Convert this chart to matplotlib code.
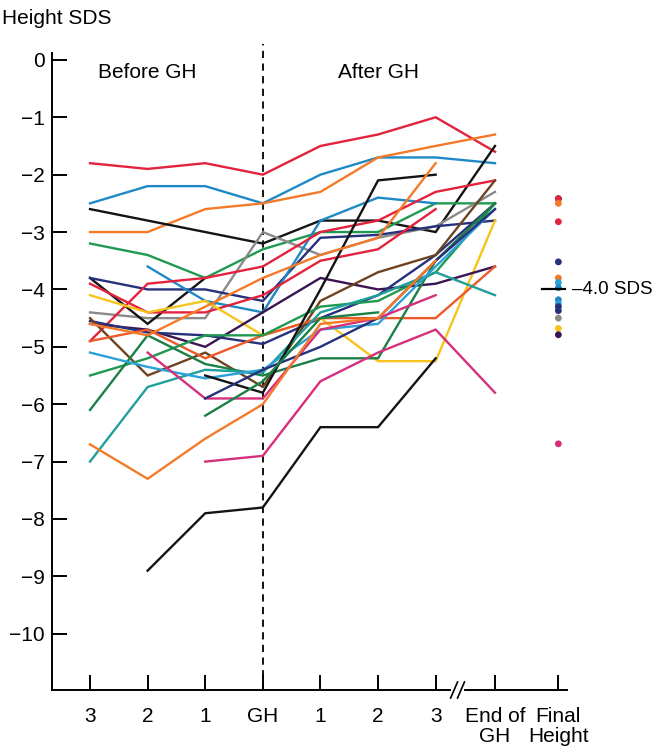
import numpy as np
import matplotlib
matplotlib.use("Agg")
import matplotlib.pyplot as plt

plt.rcParams['font.family'] = ['Liberation Sans', 'DejaVu Sans']

nan = np.nan
# x categories: 3,2,1 years before GH, GH start, 1,2,3 years after, End of GH
x_labels = ["3", "2", "1", "GH", "1", "2", "3", "End of\nGH", "Final\nHeight"]
x_pos = [0, 1, 2, 3, 4, 5, 6, 7.03, 8.13]

s_red1     = [-1.8, -1.9, -1.8, -2.0, -1.5, -1.3, -1.0, -1.6]
s_blue1    = [-2.5, -2.2, -2.2, -2.5, -2.0, -1.7, -1.7, -1.8]
s_orange1  = [-3.0, -3.0, -2.6, -2.5, -2.3, -1.7, -1.5, -1.3]
s_black1   = [-2.6, -2.8, -3.0, -3.2, -2.8, -2.8, -3.0, -1.5]
s_green1   = [-3.2, -3.4, -3.8, -3.3, -3.0, -3.0, -2.5, -2.5]
s_gray     = [-4.4, -4.5, -4.5, -3.0, -3.4, -3.1, -2.9, -2.3]
s_black2   = [-3.8, -4.6, -3.8, nan, nan, nan, nan, nan]
s_navy1    = [-3.8, -4.0, -4.0, -4.2, -3.1, -3.05, -2.9, -2.8]
s_blue2    = [nan, -3.6, -4.2, -4.4, -2.8, -2.4, -2.5, nan]
s_red2     = [-4.9, -3.9, -3.8, -3.6, -3.0, -2.8, -2.3, -2.1]
s_red3     = [-3.9, -4.4, -4.4, -4.1, -3.5, -3.3, -2.6, nan]
s_yellow   = [-4.1, -4.4, -4.2, -4.8, -4.5, -5.25, -5.25, -2.8]
s_purple   = [-4.6, -4.7, -5.0, -4.4, -3.8, -4.0, -3.9, -3.6]
s_navy2    = [-4.55, -4.75, -4.8, -4.95, -4.5, -4.1, -3.4, -2.5]
s_brown    = [-4.5, -5.5, -5.1, -5.7, -4.2, -3.7, -3.4, -2.1]
s_orange2  = [-4.9, -4.7, -5.2, -4.8, -4.5, -4.5, -4.5, -3.6]
s_green2   = [-5.5, -5.2, -4.8, -4.8, -4.3, -4.2, -3.7, -2.5]
s_green3   = [-6.1, -4.8, -5.3, -5.5, -5.2, -5.2, -3.5, -2.5]
s_teal     = [-7.0, -5.7, -5.4, -5.45, -4.4, -4.1, -3.7, -4.1]
s_blue3    = [-5.1, -5.35, -5.55, -5.4, -4.7, -4.6, -3.6, -2.6]
s_magenta1 = [nan, -5.1, -5.9, -5.9, -4.7, -4.5, -4.1, nan]
s_black4   = [nan, nan, -5.5, -5.8, -4.0, -2.1, -2.0, nan]
s_navy4    = [nan, nan, -5.9, -5.4, -5.0, -4.5, -3.5, -2.6]
s_green4   = [nan, nan, -6.2, -5.6, -4.5, -4.4, nan, nan]
s_magenta2 = [nan, nan, -7.0, -6.9, -5.6, -5.1, -4.7, -5.8]
s_orange3  = [-6.7, -7.3, -6.6, -6.0, -4.6, -4.5, -3.5, nan]
s_orange4  = [-4.6, -4.8, -4.3, -3.8, -3.4, -3.1, -1.8, nan]
s_black5   = [nan, -8.9, -7.9, -7.8, -6.4, -6.4, -5.2, nan]

RED, BLUE, ORANGE, BLACK = '#e3223c', '#1f89c6', '#f47a2a', '#141414'
GREEN, GRAY, NAVY, PURPLE = '#1e9a50', '#8a8a8a', '#27307a', '#3b1552'
BROWN, TEAL, YELLOW, MAGENTA = '#6e4321', '#21a09b', '#f8c31c', '#d62f7c'
LBLUE, DGREEN, OREDS = '#2ba1d9', '#1a8046', '#ec5a2a'

series = [
    (s_red1, RED), (s_blue1, BLUE), (s_orange1, ORANGE), (s_black1, BLACK),
    (s_green1, GREEN), (s_gray, GRAY), (s_black2, BLACK), (s_navy1, NAVY),
    (s_blue2, BLUE), (s_red2, RED), (s_red3, RED), (s_yellow, YELLOW),
    (s_purple, PURPLE), (s_navy2, NAVY), (s_brown, BROWN), (s_orange2, OREDS),
    (s_green2, GREEN), (s_green3, DGREEN), (s_teal, TEAL), (s_blue3, LBLUE),
    (s_magenta1, MAGENTA), (s_black4, BLACK), (s_navy4, NAVY), (s_green4, DGREEN),
    (s_magenta2, MAGENTA), (s_orange3, ORANGE), (s_orange4, ORANGE), (s_black5, BLACK),
]

final_values = [-2.42, -2.42, -2.5, -2.82, -3.52, -3.8, -3.88, -3.97, -4.18,
                -4.25, -4.3, -4.37, -4.5, -4.68, -4.79, -6.69]
final_colors = [BLACK, RED, ORANGE, RED, NAVY, ORANGE, LBLUE, BLUE, BLUE,
                LBLUE, NAVY, NAVY, GRAY, YELLOW, PURPLE, MAGENTA]

fig = plt.figure(figsize=(6.53, 7.47), dpi=100)
ax = fig.add_axes([52/653, 1-690/747, (567-52)/653, (690-53)/747])
ax.set_xlim(-0.66, 8.28)
ax.set_ylim(-10.98, 0.12)

for vals, col in series:
    ax.plot(x_pos[:8], vals, color=col, lw=1.7, solid_joinstyle='miter')

ax.scatter([x_pos[8]] * len(final_values), final_values, c=final_colors, s=24, zorder=3, linewidths=0)

# GH start dashed line
ax.plot([3, 3], [-10.98, 0.28], color='black', lw=1.3, ls=(0, (4, 3)), clip_on=False, zorder=1)

# -4.0 SDS marker
ax.plot([7.85, 8.25], [-4.0, -4.0], color='black', lw=1.6, zorder=4)
ax.text(8.37, -4.0, "\u20134.0 SDS", fontsize=13.5, va='center', ha='left')

ax.spines['top'].set_visible(False)
ax.spines['right'].set_visible(False)
ax.spines['left'].set_linewidth(1.4)
ax.spines['bottom'].set_linewidth(1.4)

ax.set_xticks(x_pos)
ax.set_xticklabels(x_labels, fontsize=15, linespacing=1.1)
ax.set_yticks(range(0, -11, -1))
ax.set_yticklabels([str(v) if v == 0 else "\u2212" + str(-v) for v in range(0, -11, -1)], fontsize=15)
ax.tick_params(axis='both', direction='in', length=11, width=1.4)
ax.tick_params(axis='x', pad=12)
ax.tick_params(axis='y', pad=5)

# axis break marks
xb = 6.38
ax.plot([xb - 0.08, xb + 0.08], [-10.98, -10.98], color='white', lw=3, clip_on=False, zorder=5)
for dx in (-0.06, 0.06):
    ax.plot([xb + dx - 0.06, xb + dx + 0.06], [-11.12, -10.84], color='black', lw=1.2, clip_on=False, zorder=6)

ax.text(1, -0.22, "Before GH", fontsize=15, ha='center', va='center')
ax.text(5, -0.22, "After GH", fontsize=15, ha='center', va='center')
fig.text(2/653, 1-18/747, "Height SDS", fontsize=15, ha='left', va='center')

fig.savefig("out.png", dpi=100)
